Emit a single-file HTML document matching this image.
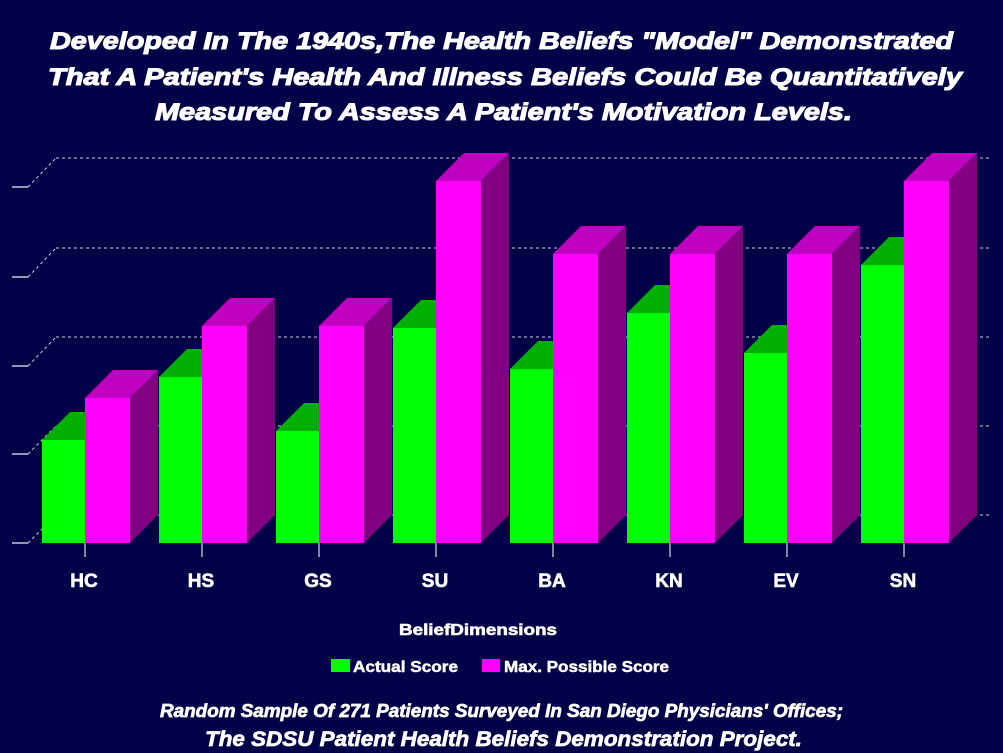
<!DOCTYPE html>
<html><head><meta charset="utf-8"><style>
html,body{margin:0;padding:0;background:#020046;}
svg{display:block;}
text{font-family:"Liberation Sans",Arial,sans-serif;fill:#fff;}
</style></head><body>
<svg width="1003" height="753" viewBox="0 0 1003 753" xmlns="http://www.w3.org/2000/svg">
<rect width="1003" height="753" fill="#020046"/>
<!-- title -->
<g font-weight="bold" font-style="italic" font-size="24" stroke="#fff" stroke-width="1.1">
<text x="50" y="49" textLength="903" lengthAdjust="spacingAndGlyphs">Developed In The 1940s,The Health Beliefs "Model" Demonstrated</text>
<text x="48" y="85" textLength="914" lengthAdjust="spacingAndGlyphs">That A Patient's Health And Illness Beliefs Could Be Quantitatively</text>
<text x="155" y="120" textLength="697" lengthAdjust="spacingAndGlyphs">Measured To Assess A Patient's Motivation Levels.</text>
</g>
<!-- gridlines back wall -->
<g stroke="#d0d0e0" stroke-width="1" stroke-dasharray="3,3" fill="none">
<line x1="56" y1="158" x2="990" y2="158"/>
<line x1="56" y1="248" x2="990" y2="248"/>
<line x1="56" y1="337" x2="990" y2="337"/>
<line x1="56" y1="426" x2="990" y2="426"/>
<line x1="56" y1="515" x2="990" y2="515"/>
<line x1="28" y1="187" x2="56" y2="158"/>
<line x1="28" y1="277" x2="56" y2="248"/>
<line x1="28" y1="366" x2="56" y2="337"/>
<line x1="28" y1="454" x2="56" y2="426"/>
<line x1="28" y1="543" x2="56" y2="515"/>
</g>
<g stroke="#c8c8d8" stroke-width="1.5">
<line x1="12" y1="187" x2="28" y2="187"/>
<line x1="12" y1="277" x2="28" y2="277"/>
<line x1="12" y1="366" x2="28" y2="366"/>
<line x1="12" y1="454" x2="28" y2="454"/>
<line x1="12" y1="543" x2="28" y2="543"/>
</g>
<!-- bars -->
<g id="bars">
<polygon points="42,440 70,412 113,412 85,440" fill="#00b000"/>
<rect x="42" y="440" width="43" height="103" fill="#00ff00"/>
<polygon points="85,398 113,370 158,370 130,398" fill="#c000c0"/>
<polygon points="130,398 158,370 158,515 130,543" fill="#800080"/>
<rect x="85" y="398" width="45" height="145" fill="#ff00ff"/>

<polygon points="159,377 187,349 230,349 202,377" fill="#00b000"/>
<rect x="159" y="377" width="43" height="166" fill="#00ff00"/>
<polygon points="202,326 230,298 275,298 247,326" fill="#c000c0"/>
<polygon points="247,326 275,298 275,515 247,543" fill="#800080"/>
<rect x="202" y="326" width="45" height="217" fill="#ff00ff"/>

<polygon points="276,431 304,403 347,403 319,431" fill="#00b000"/>
<rect x="276" y="431" width="43" height="112" fill="#00ff00"/>
<polygon points="319,326 347,298 392,298 364,326" fill="#c000c0"/>
<polygon points="364,326 392,298 392,515 364,543" fill="#800080"/>
<rect x="319" y="326" width="45" height="217" fill="#ff00ff"/>

<polygon points="393,328 421,300 464,300 436,328" fill="#00b000"/>
<rect x="393" y="328" width="43" height="215" fill="#00ff00"/>
<polygon points="436,181 464,153 509,153 481,181" fill="#c000c0"/>
<polygon points="481,181 509,153 509,515 481,543" fill="#800080"/>
<rect x="436" y="181" width="45" height="362" fill="#ff00ff"/>

<polygon points="510,369 538,341 581,341 553,369" fill="#00b000"/>
<rect x="510" y="369" width="43" height="174" fill="#00ff00"/>
<polygon points="553,254 581,226 626,226 598,254" fill="#c000c0"/>
<polygon points="598,254 626,226 626,515 598,543" fill="#800080"/>
<rect x="553" y="254" width="45" height="289" fill="#ff00ff"/>

<polygon points="627,313 655,285 698,285 670,313" fill="#00b000"/>
<rect x="627" y="313" width="43" height="230" fill="#00ff00"/>
<polygon points="670,254 698,226 743,226 715,254" fill="#c000c0"/>
<polygon points="715,254 743,226 743,515 715,543" fill="#800080"/>
<rect x="670" y="254" width="45" height="289" fill="#ff00ff"/>

<polygon points="744,353 772,325 815,325 787,353" fill="#00b000"/>
<rect x="744" y="353" width="43" height="190" fill="#00ff00"/>
<polygon points="787,254 815,226 860,226 832,254" fill="#c000c0"/>
<polygon points="832,254 860,226 860,515 832,543" fill="#800080"/>
<rect x="787" y="254" width="45" height="289" fill="#ff00ff"/>

<polygon points="861,265 889,237 932,237 904,265" fill="#00b000"/>
<rect x="861" y="265" width="43" height="278" fill="#00ff00"/>
<polygon points="904,181 932,153 977,153 949,181" fill="#c000c0"/>
<polygon points="949,181 977,153 977,515 949,543" fill="#800080"/>
<rect x="904" y="181" width="45" height="362" fill="#ff00ff"/>
</g>
<!-- category ticks -->
<g stroke="#b0b0c0" stroke-width="1.5">
<line x1="85" y1="543" x2="85" y2="557"/>
<line x1="202" y1="543" x2="202" y2="557"/>
<line x1="319" y1="543" x2="319" y2="557"/>
<line x1="436" y1="543" x2="436" y2="557"/>
<line x1="553" y1="543" x2="553" y2="557"/>
<line x1="670" y1="543" x2="670" y2="557"/>
<line x1="787" y1="543" x2="787" y2="557"/>
<line x1="904" y1="543" x2="904" y2="557"/>
</g>
<!-- category labels -->
<g font-weight="bold" font-size="19" text-anchor="middle" stroke="#fff" stroke-width="0.6">
<text x="84" y="587">HC</text>
<text x="201" y="587">HS</text>
<text x="318" y="587">GS</text>
<text x="435" y="587">SU</text>
<text x="552" y="587">BA</text>
<text x="669" y="587">KN</text>
<text x="786" y="587">EV</text>
<text x="903" y="587">SN</text>
</g>
<!-- axis title -->
<text x="399" y="635" font-weight="bold" font-size="16" textLength="158" lengthAdjust="spacingAndGlyphs" stroke="#fff" stroke-width="0.6">BeliefDimensions</text>
<!-- legend -->
<rect x="331" y="659" width="19" height="13" fill="#00ff00"/>
<text x="353" y="672" font-weight="bold" font-size="16" textLength="105" lengthAdjust="spacingAndGlyphs" stroke="#fff" stroke-width="0.5">Actual Score</text>
<rect x="482" y="659" width="18" height="13" fill="#ff00ff"/>
<text x="504" y="672" font-weight="bold" font-size="16" textLength="165" lengthAdjust="spacingAndGlyphs" stroke="#fff" stroke-width="0.5">Max. Possible Score</text>
<!-- footer -->
<g font-weight="bold" font-style="italic" stroke="#fff" stroke-width="0.7">
<text x="160" y="717" font-size="18" textLength="683" lengthAdjust="spacingAndGlyphs">Random Sample Of 271 Patients Surveyed In San Diego Physicians' Offices;</text>
<text x="205" y="746" font-size="21" textLength="597" lengthAdjust="spacingAndGlyphs">The SDSU Patient Health Beliefs Demonstration Project.</text>
</g>
</svg>
</body></html>
